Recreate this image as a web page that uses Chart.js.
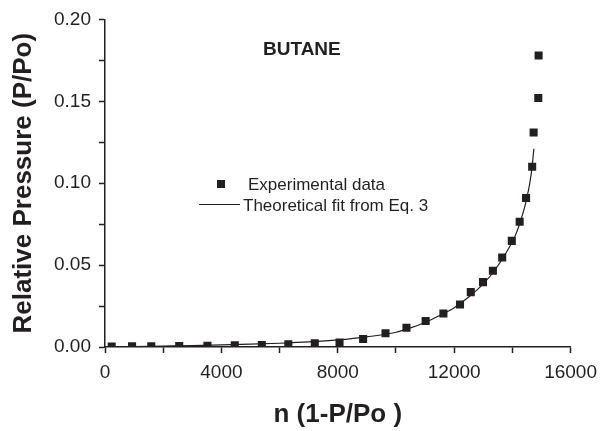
<!DOCTYPE html>
<html>
<head>
<meta charset="utf-8">
<script src="https://cdn.jsdelivr.net/npm/chart.js@4/dist/chart.umd.min.js"></script>
<style>
  html, body { margin: 0; padding: 0; background: #ffffff; }
  #wrap { width: 605px; height: 431px; position: relative; }
</style>
</head>
<body>
<div id="wrap"><canvas id="c" width="605" height="431"></canvas></div>
<script>
// ---- data ----
const expX = [230, 930, 1590, 2550, 3520, 4460, 5390, 6300, 7210, 8060, 8870, 9640, 10360, 11020, 11630, 12200, 12570, 12990, 13330, 13650, 13980, 14250, 14470, 14680, 14730, 14890, 14900];
const expY = [0.0003, 0.0004, 0.0005, 0.0006, 0.0008, 0.0010, 0.0012, 0.0017, 0.0022, 0.0028, 0.0049, 0.0084, 0.0118, 0.0159, 0.0205, 0.0260, 0.0335, 0.0396, 0.0466, 0.0546, 0.0648, 0.0765, 0.0910, 0.1100, 0.1310, 0.1520, 0.1780];

const fitX = [0, 1000, 2000, 3000, 4000, 5000, 6000, 7000, 8000, 9000, 10000, 10500, 11000, 11500, 12000, 12500, 13000, 13400, 13800, 14100, 14300, 14500, 14650, 14740];
const fitY = [0.0000, 0.0003, 0.0006, 0.0009, 0.0013, 0.0017, 0.0023, 0.0031, 0.0043, 0.0062, 0.0090, 0.0117, 0.0150, 0.0192, 0.0240, 0.0305, 0.0385, 0.0470, 0.0580, 0.0680, 0.0780, 0.0910, 0.1060, 0.1210];

const xTickLabels = ['0', '4000', '8000', '12000', '16000'];
const yTickLabels = ['0.00', '0.05', '0.10', '0.15', '0.20'];

const seriesNames = ['Experimental data', 'Theoretical fit from Eq. 3'];
const chartTitle = 'BUTANE';
const xTitle = 'n (1-P/Po )';
const yTitle = 'Relative Pressure (P/Po)';

const INK = '#231f20';
const FONT = "'Liberation Sans', Arial, Helvetica, sans-serif";

const expData = expX.map((x, i) => ({ x: x, y: expY[i] }));
const fitData = fitX.map((x, i) => ({ x: x, y: fitY[i] }));

function labelFor(list, value) {
  for (const s of list) {
    if (Math.abs(parseFloat(s) - value) < 1e-9 * Math.max(1, Math.abs(value))) return s;
  }
  return '';
}

const overlay = {
  id: 'overlay',
  afterDatasetsDraw(chart) {
    const ctx = chart.ctx;
    ctx.save();
    ctx.fillStyle = INK;
    ctx.strokeStyle = INK;
    // title inside plot
    ctx.font = "bold 19px " + FONT;
    ctx.textAlign = 'left';
    ctx.textBaseline = 'middle';
    ctx.fillText(chartTitle, 263, 50);
    // legend
    ctx.fillRect(217, 180, 8, 8);
    ctx.font = "17px " + FONT;
    ctx.fillText(seriesNames[0], 248, 185);
    ctx.lineWidth = 1;
    ctx.beginPath();
    ctx.moveTo(199, 204.5);
    ctx.lineTo(240, 204.5);
    ctx.stroke();
    ctx.fillText(seriesNames[1], 243, 206);
    ctx.restore();
  }
};

new Chart(document.getElementById('c'), {
  type: 'scatter',
  data: {
    datasets: [
      {
        label: seriesNames[1],
        data: fitData,
        showLine: true,
        borderColor: INK,
        borderWidth: 1.2,
        pointRadius: 0,
        pointHoverRadius: 0,
        cubicInterpolationMode: 'monotone',
        fill: false,
        order: 2
      },
      {
        label: seriesNames[0],
        data: expData,
        showLine: false,
        pointStyle: 'rect',
        pointRadius: 5.7,
        backgroundColor: INK,
        borderColor: INK,
        borderWidth: 0,
        order: 1
      }
    ]
  },
  options: {
    responsive: false,
    animation: false,
    devicePixelRatio: 1,
    layout: { padding: { top: 19, right: 30, left: 0, bottom: 0 } },
    plugins: {
      legend: { display: false },
      tooltip: { enabled: false },
      title: { display: false }
    },
    scales: {
      x: {
        type: 'linear',
        min: 0,
        max: 16000,
        afterFit(scale) { scale.height = 84; },
        border: { display: true, color: INK, width: 1.5 },
        grid: { drawOnChartArea: false, drawTicks: true, tickLength: 6, tickWidth: 1.5, tickColor: INK },
        ticks: {
          stepSize: 2000,
          autoSkip: false,
          maxRotation: 0,
          padding: 8,
          color: INK,
          font: { family: FONT, size: 19 },
          callback: (v) => labelFor(xTickLabels, v)
        },
        title: {
          display: true,
          text: xTitle,
          color: INK,
          font: { family: FONT, size: 26, weight: 'bold' },
          padding: { top: 0, bottom: 1 }
        }
      },
      y: {
        type: 'linear',
        min: 0,
        max: 0.2,
        afterFit(scale) { scale.width = 105; },
        border: { display: true, color: INK, width: 1.5 },
        grid: { drawOnChartArea: false, drawTicks: true, tickLength: 6, tickWidth: 1.5, tickColor: INK },
        ticks: {
          stepSize: 0.025,
          autoSkip: false,
          padding: 8,
          color: INK,
          font: { family: FONT, size: 19 },
          callback: (v) => labelFor(yTickLabels, v)
        },
        title: {
          display: true,
          text: yTitle,
          color: INK,
          font: { family: FONT, size: 26, weight: 'bold' },
          padding: { top: 8, bottom: 0 }
        }
      }
    }
  },
  plugins: [overlay]
});
</script>
</body>
</html>
